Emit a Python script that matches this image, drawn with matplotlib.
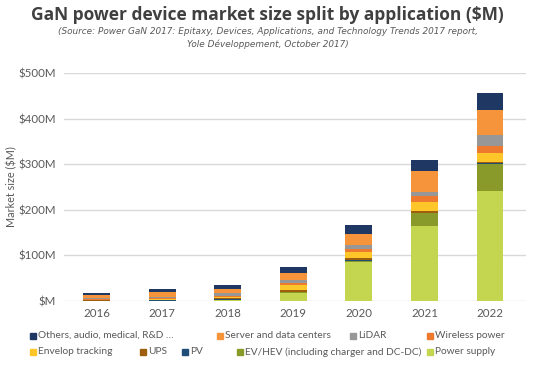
import numpy as np
import matplotlib.pyplot as plt
from matplotlib.patches import Rectangle

years = ['2016', '2017', '2018', '2019', '2020', '2021', '2022']

# market size by application, $M (stack order bottom -> top)
power_supply = [0.2, 0.5, 2, 18, 86, 165, 242]
ev_hev = [0.2, 0.5, 1, 1, 2, 28, 58]
pv = [0.3, 0.5, 1, 0.5, 1, 1, 2]
ups = [0.5, 1, 2, 4, 5, 4, 3]
envelop = [1, 1, 3, 12, 14, 20, 20]
wireless = [1.5, 2, 3, 4, 6, 13, 16]
lidar = [3, 4, 5, 7, 9, 9, 23]
server = [6, 10, 9, 14, 24, 44, 55]
others = [4.5, 6, 8, 15, 20, 26, 37]

series = [
    ('Power supply', power_supply, '#C4D550'),
    ('EV/HEV (including charger and DC-DC)', ev_hev, '#8A9A2A'),
    ('PV', pv, '#1F4E79'),
    ('UPS', ups, '#9E5F0C'),
    ('Envelop tracking', envelop, '#FFC629'),
    ('Wireless power', wireless, '#EE7A30'),
    ('LiDAR', lidar, '#979797'),
    ('Server and data centers', server, '#F6943C'),
    ('Others, audio, medical, R&D …', others, '#1F3763'),
]

yticks = [0, 100, 200, 300, 400, 500]
ytick_labels = ['$M', '$100M', '$200M', '$300M', '$400M', '$500M']

W, H = 535, 365
fig = plt.figure(figsize=(W / 100, H / 100), dpi=100)
ax = fig.add_axes([64 / W, (H - 301) / H, 462 / W, 228 / H])

x = np.arange(len(years))
bottom = np.zeros(len(years))
for name, vals, col in series:
    ax.bar(x, vals, 0.41, bottom=bottom, color=col, zorder=3)
    bottom += np.array(vals)

ax.set_ylim(0, 500)
ax.set_xlim(-0.5, 6.55)
ax.set_yticks(yticks)
ax.set_yticklabels(ytick_labels)
ax.set_xticks(x)
ax.set_xticklabels(years)
ax.grid(axis='y', color='#D9D9D9', linewidth=1, zorder=0)
for s in ax.spines.values():
    s.set_visible(False)
ax.tick_params(length=0, labelsize=8.3, colors='#595959', pad=5)
ax.tick_params(axis='y', pad=6)
for lab in ax.get_xticklabels() + ax.get_yticklabels():
    lab.set_fontfamily('Lato')
fig.text(12 / W, (H - 187) / H, 'Market size ($M)', rotation=90, ha='center', va='center',
         fontsize=7.8, color='#595959', family='Lato')

fig.text(0.5, 1 - 15 / H, 'GaN power device market size split by application ($M)',
         ha='center', va='center', fontsize=12.5, fontweight='bold', color='#404040',
         family='Open Sans')
fig.text(0.5, 1 - 38 / H, '(Source: Power GaN 2017: Epitaxy, Devices, Applications, and Technology Trends 2017 report,\nYole Développement, October 2017)',
         ha='center', va='center', fontsize=6.4, style='italic', color='#595959',
         family='DejaVu Sans', linespacing=1.45)

# legend laid out as in the source (two flowing rows)
lookup = {name: col for name, vals, col in series}
rows = [
    (335.5, [('Others, audio, medical, R&D …', 33), ('Server and data centers', 220),
             ('LiDAR', 353), ('Wireless power', 430)]),
    (352, [('Envelop tracking', 33), ('UPS', 143), ('PV', 185),
           ('EV/HEV (including charger and DC-DC)', 240), ('Power supply', 430)]),
]
for y, items in rows:
    for name, px in items:
        fig.patches.append(Rectangle(((px - 3) / W, (H - y - 3) / H), 6 / W, 6 / H,
                                     transform=fig.transFigure, color=lookup[name]))
        fig.text((px + 5) / W, (H - y) / H, name, ha='left', va='center',
                 fontsize=7.3, color='#595959', family='Lato')

fig.savefig('out.png', dpi=100)
